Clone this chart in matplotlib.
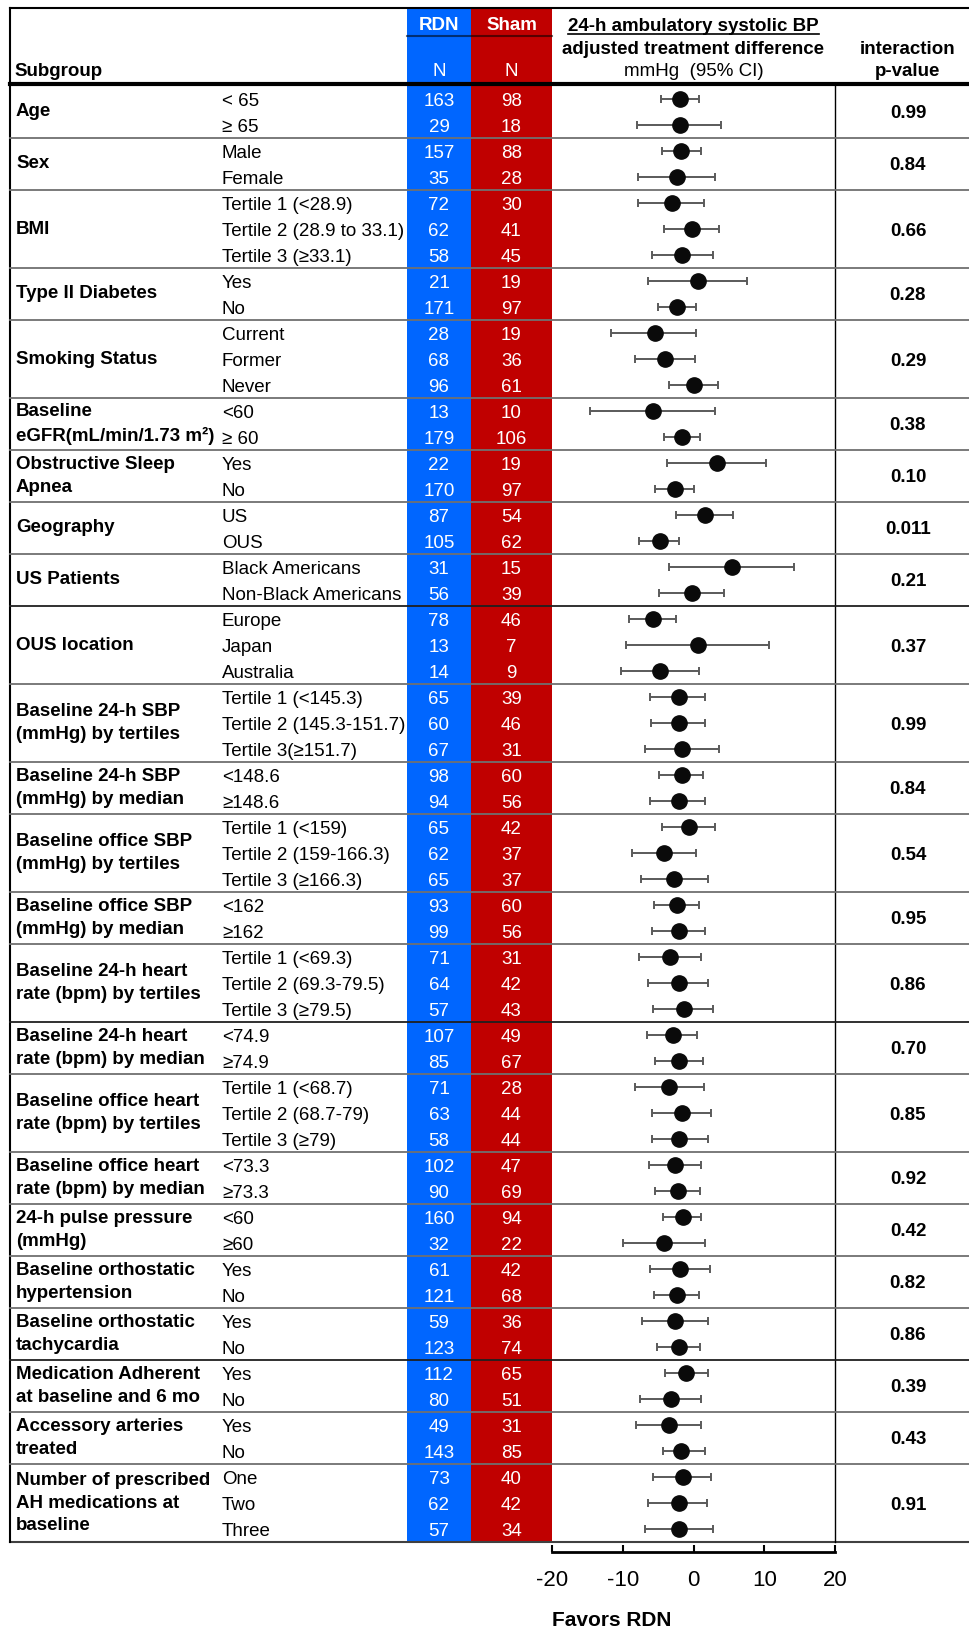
import matplotlib
matplotlib.use("Agg")
import matplotlib.pyplot as plt
from matplotlib.patches import Rectangle

plt.rcParams["font.family"] = ["Liberation Sans", "DejaVu Sans"]

groups = [
    "Age", "Sex", "BMI", "Type II Diabetes", "Smoking Status",
    "Baseline\neGFR(mL/min/1.73 m²)", "Obstructive Sleep\nApnea", "Geography",
    "US Patients", "OUS location", "Baseline 24-h SBP\n(mmHg) by tertiles",
    "Baseline 24-h SBP\n(mmHg) by median", "Baseline office SBP\n(mmHg) by tertiles",
    "Baseline office SBP\n(mmHg) by median", "Baseline 24-h heart\nrate (bpm) by tertiles",
    "Baseline 24-h heart\nrate (bpm) by median", "Baseline office heart\nrate (bpm) by tertiles",
    "Baseline office heart\nrate (bpm) by median", "24-h pulse pressure\n(mmHg)",
    "Baseline orthostatic\nhypertension", "Baseline orthostatic\ntachycardia",
    "Medication Adherent\nat baseline and 6 mo", "Accessory arteries\ntreated",
    "Number of prescribed\nAH medications at\nbaseline",
]

levels = [
    ["< 65", "≥ 65"],
    ["Male", "Female"],
    ["Tertile 1 (<28.9)", "Tertile 2 (28.9 to 33.1)", "Tertile 3 (≥33.1)"],
    ["Yes", "No"],
    ["Current", "Former", "Never"],
    ["<60", "≥ 60"],
    ["Yes", "No"],
    ["US", "OUS"],
    ["Black Americans", "Non-Black Americans"],
    ["Europe", "Japan", "Australia"],
    ["Tertile 1 (<145.3)", "Tertile 2 (145.3-151.7)", "Tertile 3(≥151.7)"],
    ["<148.6", "≥148.6"],
    ["Tertile 1 (<159)", "Tertile 2 (159-166.3)", "Tertile 3 (≥166.3)"],
    ["<162", "≥162"],
    ["Tertile 1 (<69.3)", "Tertile 2 (69.3-79.5)", "Tertile 3 (≥79.5)"],
    ["<74.9", "≥74.9"],
    ["Tertile 1 (<68.7)", "Tertile 2 (68.7-79)", "Tertile 3 (≥79)"],
    ["<73.3", "≥73.3"],
    ["<60", "≥60"],
    ["Yes", "No"],
    ["Yes", "No"],
    ["Yes", "No"],
    ["Yes", "No"],
    ["One", "Two", "Three"],
]

rdn_n = [163, 29, 157, 35, 72, 62, 58, 21, 171, 28, 68, 96, 13, 179, 22, 170,
         87, 105, 31, 56, 78, 13, 14, 65, 60, 67, 98, 94, 65, 62, 65, 93, 99,
         71, 64, 57, 107, 85, 71, 63, 58, 102, 90, 160, 32, 61, 121, 59, 123,
         112, 80, 49, 143, 73, 62, 57]
sham_n = [98, 18, 88, 28, 30, 41, 45, 19, 97, 19, 36, 61, 10, 106, 19, 97,
          54, 62, 15, 39, 46, 7, 9, 39, 46, 31, 60, 56, 42, 37, 37, 60, 56,
          31, 42, 43, 49, 67, 28, 44, 44, 47, 69, 94, 22, 42, 68, 36, 74,
          65, 51, 31, 85, 40, 42, 34]

# adjusted treatment difference, mmHg, with 95% CI
est = [-1.9, -1.9, -1.7, -2.3, -3.1, -0.2, -1.6, 0.7, -2.3, -5.5, -4.0, 0.1,
       -5.7, -1.6, 3.3, -2.6, 1.6, -4.8, 5.4, -0.2, -5.7, 0.6, -4.7,
       -2.1, -2.1, -1.6, -1.6, -2.0, -0.6, -4.2, -2.7, -2.3, -2.0,
       -3.3, -2.1, -1.4, -2.9, -2.0, -3.4, -1.6, -2.0, -2.6, -2.2,
       -1.5, -4.1, -1.9, -2.4, -2.6, -2.0, -1.0, -3.2, -3.5, -1.7,
       -1.5, -2.1, -2.0]
ci_lo = [-4.6, -8.0, -4.5, -7.8, -7.8, -4.2, -5.9, -6.5, -5.0, -11.6, -8.3, -3.4,
         -14.6, -4.2, -3.7, -5.4, -2.5, -7.7, -3.5, -4.9, -9.1, -9.6, -10.3,
         -6.2, -6.0, -6.9, -4.9, -6.1, -4.4, -8.7, -7.4, -5.6, -5.8,
         -7.7, -6.4, -5.7, -6.6, -5.4, -8.3, -5.8, -5.8, -6.3, -5.4,
         -4.3, -10.0, -6.2, -5.6, -7.3, -5.2, -4.0, -7.5, -8.1, -4.3,
         -5.7, -6.5, -6.8]
ci_hi = [0.8, 3.9, 1.1, 3.1, 1.5, 3.6, 2.8, 7.6, 0.3, 0.4, 0.2, 3.5,
         3.1, 0.9, 10.3, 0.0, 5.6, -2.0, 14.2, 4.3, -2.5, 10.7, 0.8,
         1.6, 1.6, 3.6, 1.4, 1.6, 3.1, 0.3, 2.0, 0.8, 1.6,
         1.1, 2.1, 2.8, 0.5, 1.4, 1.5, 2.5, 2.0, 1.1, 0.9,
         1.1, 1.6, 2.4, 0.8, 2.1, 0.9, 2.0, 1.1, 1.0, 1.6,
         2.5, 1.9, 2.7]

p_values = ["0.99", "0.84", "0.66", "0.28", "0.29", "0.38", "0.10", "0.011",
            "0.21", "0.37", "0.99", "0.84", "0.54", "0.95", "0.86", "0.70",
            "0.85", "0.92", "0.42", "0.82", "0.86", "0.39", "0.43", "0.91"]

x_ticks = [-20, -10, 0, 10, 20]

# layout in pixels (figure is 970 x 1630 at 100 dpi)
W, H = 970, 1630
TOP, HEAD, BOTTOM = 8, 84, 1542
BODY_TOP = 86
LEFT, RIGHT = 10, 970
RDN_X0, RDN_X1, SHAM_X1 = 407, 471, 552
PLOT_X1 = 835
BLUE, RED = "#0066FF", "#C00000"
FS = 13.5

n_rows = len(rdn_n)
row_h = (BOTTOM - BODY_TOP) / n_rows


def row_y(i):
    return BODY_TOP + row_h * (i + 0.5)


fig = plt.figure(figsize=(W / 100, H / 100), dpi=100)
ax = fig.add_axes([0, 0, 1, 1])
ax.set_xlim(0, W)
ax.set_ylim(H, 0)
ax.axis("off")

# coloured N columns
ax.add_patch(Rectangle((RDN_X0, TOP), RDN_X1 - RDN_X0, BOTTOM - TOP,
                       color=BLUE, lw=0, zorder=1))
ax.add_patch(Rectangle((RDN_X1, TOP), SHAM_X1 - RDN_X1, BOTTOM - TOP,
                       color=RED, lw=0, zorder=1))
ax.plot([RDN_X0, SHAM_X1], [36, 36], color="black", alpha=0.55, lw=1.5, zorder=2)

# frame
ax.plot([LEFT, RIGHT], [TOP, TOP], color="black", lw=1.5, zorder=3)
ax.plot([LEFT, RIGHT], [HEAD, HEAD], color="black", lw=3, zorder=3)
ax.plot([LEFT, RIGHT], [BOTTOM, BOTTOM], color="#404040", lw=1.5, zorder=3)
ax.plot([LEFT, LEFT], [TOP, BOTTOM], color="black", lw=1.5, zorder=3)
ax.plot([PLOT_X1, PLOT_X1], [HEAD, BOTTOM], color="black", lw=1, zorder=3)

# header
ax.text(14, 70, "Subgroup", fontsize=FS, fontweight="bold", va="center_baseline")
rdn_cx = (RDN_X0 + RDN_X1) / 2
sham_cx = (RDN_X1 + SHAM_X1) / 2
for cx, lab in [(rdn_cx, "RDN"), (sham_cx, "Sham")]:
    ax.text(cx, 23, lab, fontsize=FS, fontweight="bold", color="white",
            ha="center", va="center_baseline", zorder=4)
    ax.text(cx, 70, "N", fontsize=FS, color="white",
            ha="center", va="center_baseline", zorder=4)

plot_cx = (SHAM_X1 + PLOT_X1) / 2
title = ax.text(plot_cx, 31, "24-h ambulatory systolic BP", fontsize=FS,
                fontweight="bold", ha="center", va="baseline")
ax.text(plot_cx, 47, "adjusted treatment difference", fontsize=FS,
        fontweight="bold", ha="center", va="center_baseline")
ax.text(plot_cx, 70, "mmHg  (95% CI)", fontsize=FS,
        ha="center", va="center_baseline")
pcol_x = 908
ax.text(pcol_x, 47, "interaction", fontsize=FS, fontweight="bold",
        ha="center", va="center_baseline")
ax.text(pcol_x, 70, "p-value", fontsize=FS, fontweight="bold",
        ha="center", va="center_baseline")

# underline the forest-plot title
fig.canvas.draw()
bb = title.get_window_extent(fig.canvas.get_renderer())
x0, x1 = ax.transData.inverted().transform([[bb.x0, 0], [bb.x1, 0]])[:, 0]
ax.plot([x0, x1], [34, 34], color="black", lw=1.2)

# body rows
dark_after = {8, 14, 20}
row = 0
for g, (name, levs) in enumerate(zip(groups, levels)):
    first, last = row, row + len(levs) - 1
    mid = (row_y(first) + row_y(last)) / 2
    ax.text(16, mid, name, fontsize=FS, fontweight="bold", va="center",
            linespacing=1.45)
    ax.text(pcol_x, mid, p_values[g], fontsize=FS, fontweight="bold",
            ha="center", va="center_baseline")
    for lab in levs:
        y = row_y(row)
        ax.text(222, y, lab, fontsize=FS, va="center_baseline")
        ax.text(rdn_cx, y, str(rdn_n[row]), fontsize=FS, color="white",
                ha="center", va="center_baseline", zorder=4)
        ax.text(sham_cx, y, str(sham_n[row]), fontsize=FS, color="white",
                ha="center", va="center_baseline", zorder=4)
        row += 1
    if g < len(groups) - 1:
        y_sep = BODY_TOP + row_h * row
        ax.plot([LEFT, RIGHT], [y_sep, y_sep], zorder=3, lw=1.3,
                color="#202020" if g in dark_after else "#707070")

# forest plot
fax = fig.add_axes([SHAM_X1 / W, (H - BOTTOM) / H,
                    (PLOT_X1 - SHAM_X1) / W, (BOTTOM - BODY_TOP) / H])
fax.patch.set_visible(False)
ys = [i + 0.5 for i in range(n_rows)]
err = [[e - lo for e, lo in zip(est, ci_lo)], [hi - e for e, hi in zip(est, ci_hi)]]
fax.errorbar(est, ys, xerr=err, fmt="none", ecolor="#5a5a5a", elinewidth=1.4,
             capsize=3, capthick=1.4, zorder=2)
fax.plot(est, ys, "o", color="#0a0a0a", markersize=11, zorder=3)
fax.set_xlim(-20, 20)
fax.set_ylim(n_rows, 0)
fax.set_xticks(x_ticks)
fax.set_xticklabels([str(t) for t in x_ticks])
fax.set_yticks([])
for side in ["left", "right", "top"]:
    fax.spines[side].set_visible(False)
fax.spines["bottom"].set_position(("outward", 7))
fax.spines["bottom"].set_linewidth(2)
fax.tick_params(axis="x", direction="in", length=5, width=1.5,
                labelsize=16, pad=13)

ax.text(SHAM_X1, 1619, "Favors RDN", fontsize=15, fontweight="bold",
        va="center_baseline")

fig.savefig("out.png", dpi=100)
